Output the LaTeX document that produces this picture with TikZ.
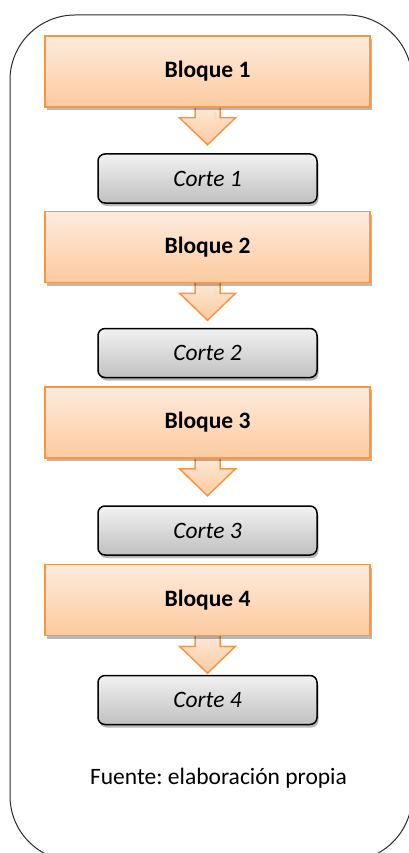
\documentclass[tikz,border=0pt]{standalone}
\usepackage{fontspec}
\setmainfont{Carlito}
\frenchspacing
\usetikzlibrary{shadows,calc}
\definecolor{blkborder}{HTML}{F79646}
\definecolor{blktop}{HTML}{FEEBDD}
\definecolor{blkbot}{HTML}{FCCA9E}
\definecolor{cuttop}{HTML}{F2F2F2}
\definecolor{cutbot}{HTML}{C0C0C0}
\definecolor{framecol}{HTML}{2B2B2B}
\pgfdeclarelayer{bg}
\pgfsetlayers{bg,main}
\tikzset{
  txt/.style={font=\fontsize{23.5}{28}\selectfont},
  bloque/.style={draw=blkborder, line width=1.5pt, top color=blktop, bottom color=blkbot,
    minimum width=325pt, minimum height=71pt, inner sep=0pt, font=\fontsize{23.5}{28}\selectfont\bfseries,
    drop shadow={shadow xshift=1.5pt, shadow yshift=-3pt, opacity=0.28, fill=black}},
  corte/.style={draw=black, line width=1.5pt, rounded corners=7pt, top color=cuttop, bottom color=cutbot,
    minimum width=219pt, minimum height=49pt, inner sep=0pt, font=\fontsize{23.5}{28}\selectfont\itshape,
    drop shadow={shadow xshift=1.5pt, shadow yshift=-3pt, opacity=0.28, fill=black}},
  flecha/.style={draw=blkborder, line width=1.5pt, top color=blktop, bottom color=blkbot, line join=miter},
}
\begin{document}
\begin{tikzpicture}[x=1pt,y=-1pt]
  \useasboundingbox (0,0) rectangle (409,853);
  % outer frame, partly beyond the page edge
  \begin{scope}
    \clip (0,0) rectangle (409,853);
    \draw[framecol, line width=1pt, rounded corners=65pt] (10,15) rectangle (412,861);
  \end{scope}

  % blocks and cuts
  \node[bloque] (b1) at (207.5,71.5) {Bloque 1};
  \node[corte]  (c1) at (207.5,178.5) {Corte 1};
  \node[bloque] (b2) at (207.5,247) {Bloque 2};
  \node[corte]  (c2) at (207.5,353) {Corte 2};
  \node[bloque] (b3) at (207.5,422.5) {Bloque 3};
  \node[corte]  (c3) at (207.5,530.5) {Corte 3};
  \node[bloque] (b4) at (207.5,600) {Bloque 4};
  \node[corte]  (c4) at (207.5,700) {Corte 4};

  \node[txt] (src) at (218.5,778) {Fuente: elaboración propia};

  % block arrows, tucked behind each block
  \begin{pgfonlayer}{bg}
    \foreach \b in {b1,b2,b3,b4}{
      \draw[flecha] ($(\b.south)+(-12.5,-5)$) -- ++(0,15) -- ++(-15.5,0)
        -- ($(\b.south)+(0,37)$) -- ($(\b.south)+(28,10)$) -- ++(-15.5,0)
        -- ($(\b.south)+(12.5,-5)$) -- cycle;
    }
  \end{pgfonlayer}
\end{tikzpicture}
\end{document}
